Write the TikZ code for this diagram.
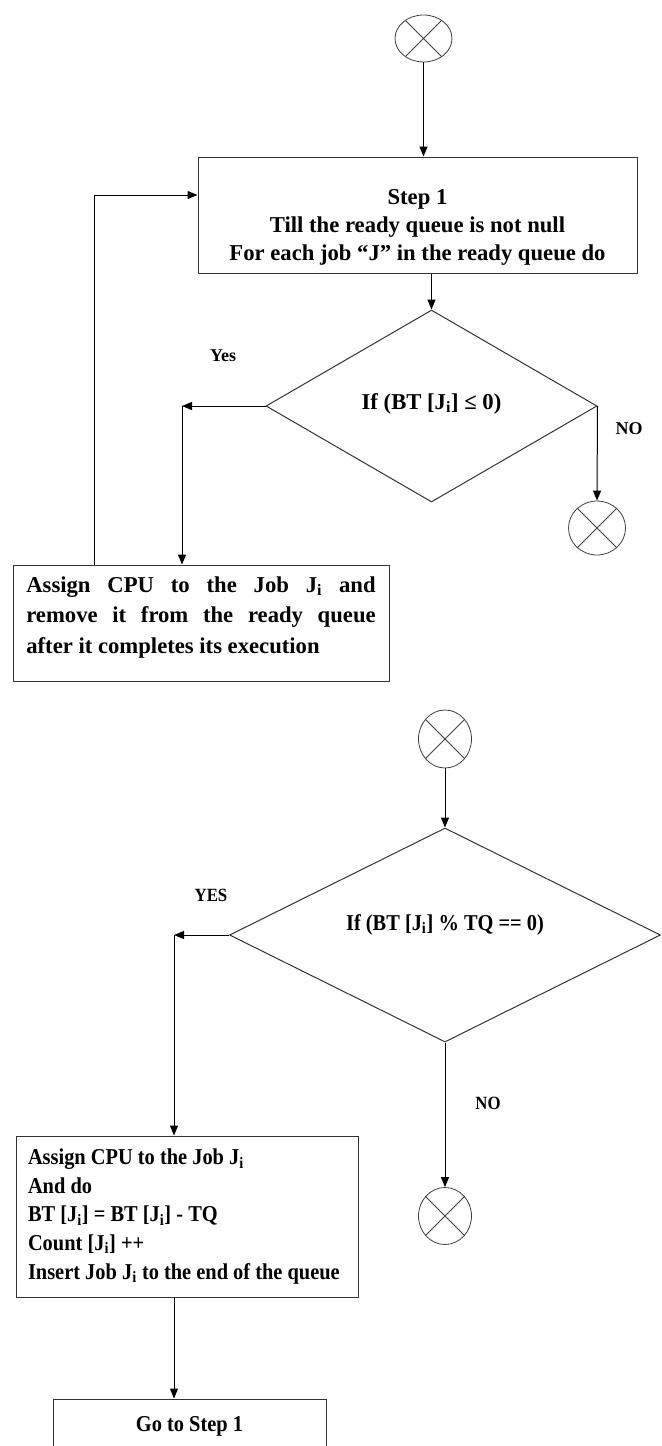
\documentclass[tikz,border=0pt]{standalone}
\usepackage{fontspec}
\setmainfont{Liberation Serif}
\newfontfamily\condfont[FakeStretch=0.9]{Liberation Serif}
\usetikzlibrary{shapes.geometric,arrows.meta}

\begin{document}
\begin{tikzpicture}[x=0.75pt,y=0.75pt,yscale=-1,xscale=1,
    font=\bfseries\fontsize{17}{21}\selectfont,
    box/.style={draw=black!80, line width=0.75pt, rectangle, inner sep=0pt},
    cond/.style={draw=black!80, line width=0.75pt, diamond, aspect=2, inner sep=0pt},
    xnode/.style={draw=black!75, line width=0.6pt, ellipse, inner sep=0pt},
    flow/.style={-{Triangle[length=7.5pt,width=6pt]}, line width=0.75pt},
    tag/.style={inner sep=0pt, font=\bfseries\fontsize{13.5}{16}\selectfont},
    ctag/.style={inner sep=0pt, font=\condfont\bfseries\fontsize{14}{16}\selectfont},
    cfont/.style={font=\condfont\bfseries\fontsize{17}{21.4}\selectfont}]
        \useasboundingbox (0,0) rectangle (661,1446);
        \clip (0,0) rectangle (661,1446);

        \node[xnode, minimum width=42.75pt, minimum height=35.25pt] (start1) at (423.5,38.5) {};
        \node[box, minimum width=329.25pt, minimum height=87pt, align=center] (step) at (417.5,215)
            {\rule{0pt}{30pt}Step 1\\Till the ready queue is not null\\For each job “J” in the ready queue do};
        \node[cond, minimum width=248.25pt, minimum height=144pt, text depth=7pt] (test1) at (431.5,406) {If (BT [J\textsubscript{i}] ≤ 0)};
        \node[xnode, minimum width=42.75pt, minimum height=40.5pt] (stop1) at (597,528) {};
        \node[box, minimum height=87pt, inner xsep=10pt, text width=262pt, align=justify,
            font=\bfseries\fontsize{17}{22.9}\selectfont] (assign) at (201,623)
            {Assign CPU to the Job J\textsubscript{i} and\linebreak remove it from the ready queue\linebreak
             after it completes its execution\rule[-12pt]{0pt}{12pt}};
        \node[tag] (yes1tag) at (223,356) {Yes};
        \node[tag] (no1tag) at (629,429) {NO};
        \coordinate (back) at (94,195);
        \coordinate (yes1) at (182,406);

        \draw[flow] (start1.south) -- (start1.south |- step.north);
        \draw[flow] (test1.north |- step.south) -- (test1.north);
        \draw[flow] (test1.west) -- (yes1);
        \draw[flow] (yes1) -- (yes1 |- assign.north);
        \draw[flow] (test1.east) -- (stop1.north);
        \draw[flow] (back |- assign.north) -- (back) -- (back -| step.west);

        \node[xnode, minimum width=39.75pt, minimum height=43.5pt] (start2) at (445,739) {};
        \node[cond, minimum width=323.25pt, minimum height=160.5pt, text depth=19pt,
            font=\condfont\bfseries\fontsize{17}{20}\selectfont] (test2) at (445,935) {If (BT [J\textsubscript{i}] \% TQ == 0)};
        \node[xnode, minimum width=39.75pt, minimum height=42.75pt] (stop2) at (445,1216) {};
        \node[box, cfont, minimum height=120.75pt, inner xsep=9pt, text width=238.5pt, align=flush left] (update) at (187,1216.5)
            {Assign CPU to the Job J\textsubscript{i}\\And do\\BT [J\textsubscript{i}] = BT [J\textsubscript{i}] - TQ\\Count [J\textsubscript{i}] ++\\Insert Job J\textsubscript{i} to the end of the queue};
        \node[box, cfont, minimum width=204.75pt, minimum height=40.5pt] (goto) at (189.5,1426) {Go to Step 1};
        \node[ctag] (yes2tag) at (211,895) {YES};
        \node[ctag] (no2tag) at (488,1103) {NO};
        \coordinate (yes2) at (174,935);

        \draw[flow] (start2.south) -- (test2.north);
        \draw[flow] (test2.west) -- (yes2);
        \draw[flow] (yes2) -- (yes2 |- update.north);
        \draw[flow] (test2.south) -- (stop2.north);
        \draw[flow] (yes2 |- update.south) -- (yes2 |- goto.north);

        \foreach \c in {start1,stop1,start2,stop2}
            \draw[black!75, line width=0.6pt] (\c.45) -- (\c.225) (\c.135) -- (\c.315);
\end{tikzpicture}
\end{document}
